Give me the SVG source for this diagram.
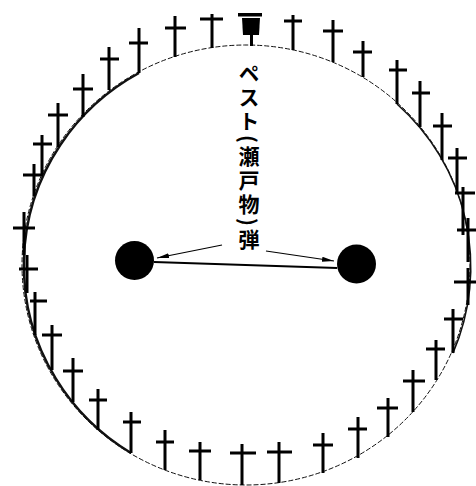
<svg xmlns="http://www.w3.org/2000/svg" width="476" height="486" viewBox="0 0 476 486">
  <style>
    .cross { stroke: #000; stroke-width: 3; fill: none; stroke-linecap: butt; }
    .rim { fill: none; stroke: #111; }
    .ball { fill: #000; }
    .link { stroke: #000; stroke-width: 2; fill: none; }
    .arrow { stroke: #000; stroke-width: 1.2; fill: none; marker-end: url(#ah); }
    .label { font-family: "Noto Sans CJK JP", "Noto Sans", sans-serif; font-size: 21px; font-weight: bold; fill: #000; }
  </style>
  <defs>
    <marker id="ah" viewBox="0 0 12 6" refX="12" refY="3" markerWidth="12" markerHeight="6" markerUnits="userSpaceOnUse" orient="auto">
      <path d="M0,0.5 L12,3 L0,5.5 Z" fill="#000"/>
    </marker>
  </defs>
  <rect width="476" height="486" fill="#fff"/>

  <g id="rim">
    <ellipse class="rim" cx="246" cy="265" rx="224" ry="220" stroke-width="1" stroke-dasharray="5 2"/>
    <path class="rim" d="M139,73 A224,220 0 0 0 131,453" stroke-width="2.4"/>
    <path class="rim" d="M397,104 A224,220 0 0 1 453,353" stroke-width="1.6"/>
  </g>

  <g id="monument">
    <rect x="238" y="13" width="24" height="3.5" fill="#000"/>
    <path d="M242,18 L260,18 L259,35 L243,35 Z" fill="#000"/>
    <rect x="250" y="35" width="3" height="11" fill="#000"/>
  </g>

  <g id="crosses">
    <path id="c1" class="cross" d="M212,14 V48 M200,19 H223"/>
    <path id="c2" class="cross" d="M175,16 V57 M165,28 H186"/>
    <path id="c3" class="cross" d="M139,28 V73 M129,43 H148"/>
    <path id="c4" class="cross" d="M109,47 V90 M100,59 H119"/>
    <path id="c5" class="cross" d="M83,74 V117 M73,89 H93"/>
    <path id="c6" class="cross" d="M58,103 V147 M48,115 H68"/>
    <path id="c7" class="cross" d="M42,135 V174 M33,144 H52"/>
    <path id="c8" class="cross" d="M34,164 V196 M23,175 H43"/>
    <path id="c9" class="cross" d="M24,212 V255 M13,228 H35"/>
    <path id="c10" class="cross" d="M27,255 V293 M19,269 H38"/>
    <path id="c11" class="cross" d="M35,292 V335 M30,301 H47"/>
    <path id="c12" class="cross" d="M52,325 V370 M42,335 H62"/>
    <path id="c13" class="cross" d="M73,358 V402 M63,371 H83"/>
    <path id="c14" class="cross" d="M98,389 V430 M89,400 H107"/>
    <path id="c15" class="cross" d="M131,412 V453 M123,422 H141"/>
    <path id="c16" class="cross" d="M165,430 V470 M156,442 H174"/>
    <path id="c17" class="cross" d="M200,442 V480 M189,451 H211"/>
    <path id="c18" class="cross" d="M242,444 V485 M230,453 H256"/>
    <path id="c19" class="cross" d="M279,442 V483 M267,452 H292"/>
    <path id="c20" class="cross" d="M323,433 V473 M313,445 H333"/>
    <path id="c21" class="cross" d="M358,417 V458 M348,429 H367"/>
    <path id="c22" class="cross" d="M388,398 V437 M377,408 H398"/>
    <path id="c23" class="cross" d="M413,370 V412 M403,381 H425"/>
    <path id="c24" class="cross" d="M436,340 V380 M426,349 H445"/>
    <path id="c25" class="cross" d="M453,309 V353 M444,319 H463"/>
    <path id="c26" class="cross" d="M468,268 V305 M454,282 H476"/>
    <path id="c27" class="cross" d="M468,218 V262 M457,230 H476"/>
    <path id="c28" class="cross" d="M463,187 V235 M455,193 H475"/>
    <path id="c29" class="cross" d="M457,148 V193 M448,158 H467"/>
    <path id="c30" class="cross" d="M442,113 V160 M433,126 H452"/>
    <path id="c31" class="cross" d="M420,81 V127 M412,93 H430"/>
    <path id="c32" class="cross" d="M397,60 V104 M389,70 H407"/>
    <path id="c33" class="cross" d="M363,41 V77 M353,52 H372"/>
    <path id="c34" class="cross" d="M333,20 V62 M323,31 H343"/>
    <path id="c35" class="cross" d="M293,15 V50 M284,21 H302"/>
  </g>

  <g id="ball-left"><circle class="ball" cx="134.5" cy="260.5" r="19.5"/></g>
  <g id="ball-right"><circle class="ball" cx="356.5" cy="264" r="19.5"/></g>

  <g id="label">
    <text class="label" x="249" y="63" style="writing-mode: vertical-rl; letter-spacing: 3px;">ペスト(瀬戸物)弾</text>
  </g>

  <g id="connectors">
    <line class="link" x1="154" y1="262" x2="337" y2="268"/>
    <line class="arrow" x1="222" y1="245" x2="157" y2="258"/>
    <line class="arrow" x1="266" y1="251" x2="334" y2="261"/>
  </g>
</svg>
